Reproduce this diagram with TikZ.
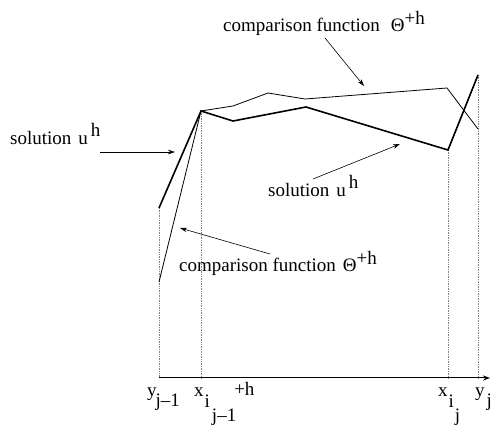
\documentclass[tikz,border=0pt]{standalone}
\usepackage{fontspec}
\setmainfont{LiberationSerif}[Extension=.ttf, UprightFont=*-Regular, BoldFont=*-Bold, ItalicFont=*-Italic]
\usetikzlibrary{arrows.meta}

\newcommand{\up}[2][7pt]{\raisebox{#1}{#2}}
\newcommand{\down}[2][-10pt]{\raisebox{#1}{#2}}

\begin{document}
\begin{tikzpicture}[
  x=1pt, y=-1pt,
  lbl/.style={anchor=base west, inner sep=0pt, font=\rmfamily\fontsize{19}{22}\selectfont},
  sol/.style={line width=1.6pt},
  cmp/.style={line width=0.8pt},
  guide/.style={densely dotted, gray, line width=0.7pt},
  arrow/.style={semithick,->,>={Stealth[length=7pt,width=4.5pt]}}
]
  \useasboundingbox (0,0) rectangle (491,425);
  \clip (0,0) rectangle (491,425);

  % vertices of u^h
  \coordinate (s1) at (159,208);
  \coordinate (s2) at (201,111);
  \coordinate (s3) at (233,121);
  \coordinate (s4) at (306,107);
  \coordinate (s5) at (448,150);
  \coordinate (s6) at (478,75);
  % vertices of the comparison function
  \coordinate (c1) at (159,282);
  \coordinate (c3) at (233,106);
  \coordinate (c4) at (268,93);
  \coordinate (c5) at (305,99);
  \coordinate (c6) at (447,88);
  \coordinate (c7) at (478,129);
  % axis
  \coordinate (o)  at (159,378);
  \coordinate (a1) at (201,378);
  \coordinate (a2) at (448,378);
  \coordinate (a3) at (478,378);
  \coordinate (aend) at (490,378);

  \draw[guide] (s1) -- (o);
  \draw[guide] (s2) -- (a1);
  \draw[guide] (s5) -- (a2);
  \draw[guide] (s6) -- (a3);
  \draw[line width=1pt,->,>={Stealth[length=7pt,width=5pt]}] (o) -- (aend);

  \draw[cmp] (c1) -- (s2) -- (c3) -- (c4) -- (c5) -- (c6) -- (c7);
  \draw[sol] (s1) -- (s2) -- (s3) -- (s4) -- (s5) -- (s6);

  % labels
  \node[lbl] (topcmp) at (223,32) {comparison function\hspace{11pt}Θ\up{+h}};
  \node[lbl] (botcmp) at (179,272) {comparison function\hspace{7pt}Θ\up{+h}};
  \node[lbl] (leftsol) at (10,145) {solution\hspace{7pt}u\kern3pt\up[8pt]{h}};
  \node[lbl] (midsol) at (268,197) {solution\hspace{7pt}u\kern3pt\up[8pt]{h}};

  \node[lbl] (yprev) at (147,397) {y\kern-1pt\down{j\textendash1}};
  \node[lbl] (xprev) at (194,397) {x\kern1pt\down[-11pt]{i\kern2pt\down[-14pt]{j\textendash1}}\kern-2pt\up[1pt]{+h}};
  \node[lbl] (xcur) at (438,397) {x\kern1pt\down[-11pt]{i\kern1pt\down[-14pt]{j}}};
  \node[lbl] (ycur) at (475,397) {y\kern2pt\down{j}};

  % arrow ends
  \coordinate (ta) at (325,38);
  \coordinate (tb) at (364,86);
  \coordinate (la) at (100,152);
  \coordinate (lb) at (175,152);
  \coordinate (ma) at (313,179);
  \coordinate (mb) at (400,144);
  \coordinate (ba) at (270,254);
  \coordinate (bb) at (180,228);

  \draw[arrow] (ta) -- (tb);
  \draw[arrow] (la) -- (lb);
  \draw[arrow] (ma) -- (mb);
  \draw[arrow] (ba) -- (bb);
\end{tikzpicture}
\end{document}
